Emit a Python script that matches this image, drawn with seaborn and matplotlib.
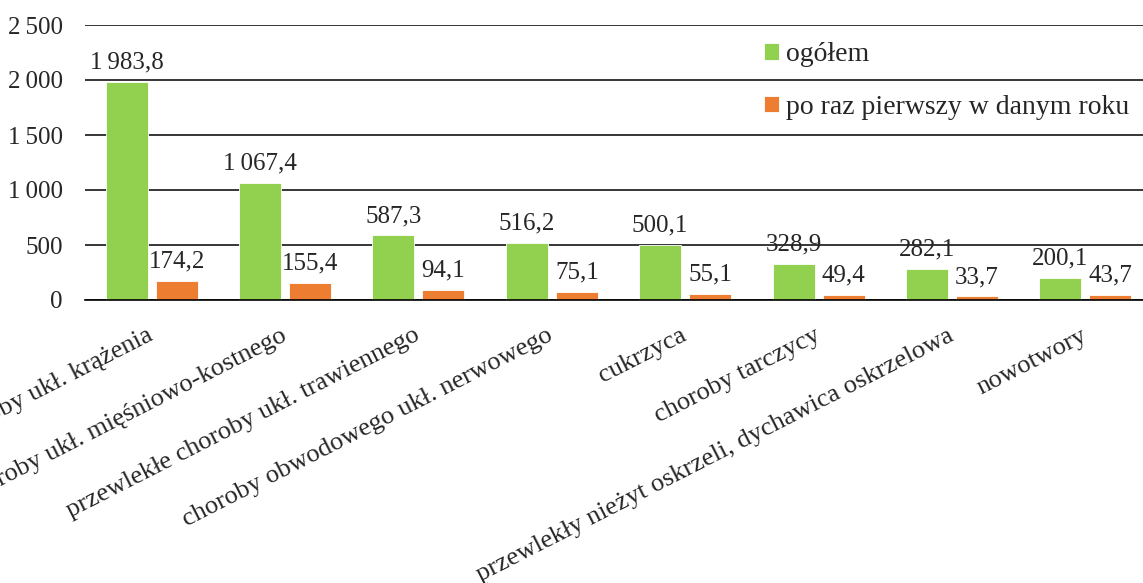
import matplotlib
matplotlib.use("Agg")
import matplotlib.pyplot as plt
import matplotlib.transforms as mtransforms
import seaborn as sns
import pandas as pd
from matplotlib.ticker import FixedLocator

categories = [
    "choroby ukł. krążenia",
    "choroby ukł. mięśniowo-kostnego",
    "przewlekłe choroby ukł. trawiennego",
    "choroby obwodowego ukł. nerwowego",
    "cukrzyca",
    "choroby tarczycy",
    "przewlekły nieżyt oskrzeli, dychawica oskrzelowa",
    "nowotwory",
]
ogolem = [1983.8, 1067.4, 587.3, 516.2, 500.1, 328.9, 282.1, 200.1]
pierwszy = [174.2, 155.4, 94.1, 75.1, 55.1, 49.4, 33.7, 43.7]
series_names = ["ogółem", "po raz pierwszy w danym roku"]
yticks = [0, 500, 1000, 1500, 2000, 2500]

colors = ["#92D050", "#ED7D31"]
SP = "\u2009"

def fmt(v, dec=1):
    s = f"{v:,.{dec}f}" if dec else f"{v:,.0f}"
    return s.replace(",", SP).replace(".", ",")

df = pd.DataFrame({
    "kat": categories * 2,
    "seria": [series_names[0]] * len(categories) + [series_names[1]] * len(categories),
    "val": ogolem + pierwszy,
})

sns.set_style("white")
plt.rcParams["font.family"] = ["Liberation Serif", "DejaVu Serif"]

W, H = 1143, 583
fig = plt.figure(figsize=(W / 100, H / 100), dpi=100)
ax = fig.add_axes([85 / W, (H - 300) / H, (1152 - 85) / W, 275 / H])

sns.barplot(data=df, x="kat", y="val", hue="seria", palette=colors,
            width=0.75, gap=0.16, ax=ax, edgecolor="white", linewidth=0.6,
            saturation=1, legend=True)

ax.set_ylim(0, 2500)
ax.set_xlim(-0.5, len(categories) - 0.5)
ax.set_yticks(yticks)
ax.set_yticklabels([fmt(t, 0) for t in yticks], fontsize=18)
ax.tick_params(axis="y", length=0, pad=16)
ax.yaxis.grid(True, color="black", linewidth=1.1)
ax.set_axisbelow(True)

ax.set_xticks(range(len(categories)))
ax.set_xticklabels(categories, fontsize=19, rotation=27, ha="right",
                   va="top", rotation_mode="anchor")
ax.tick_params(axis="x", which="major", length=0, pad=17.5)
offset = mtransforms.ScaledTranslation(-5 / 100, 0, fig.dpi_scale_trans)
for lab in ax.get_xticklabels():
    lab.set_transform(lab.get_transform() + offset)
ax.xaxis.set_minor_locator(FixedLocator([i - 0.5 for i in range(len(categories) + 1)]))
ax.tick_params(axis="x", which="minor", length=6, width=1, color="#555555", direction="out")

for s in ["top", "right", "left"]:
    ax.spines[s].set_visible(False)
ax.spines["bottom"].set_color("black")
ax.spines["bottom"].set_linewidth(1.2)
ax.set_xlabel("")
ax.set_ylabel("")

for cont in ax.containers:
    vals = [b.get_height() for b in cont]
    ax.bar_label(cont, labels=[fmt(v) for v in vals], padding=6, fontsize=18)

handles, labels = ax.get_legend_handles_labels()
ax.legend(handles, labels, loc="upper left",
          bbox_to_anchor=(764 / W, 1 - 42 / H), bbox_transform=fig.transFigure,
          frameon=False, fontsize=20, handlelength=0.55, handleheight=0.55,
          handletextpad=0.25, labelspacing=1.0, borderpad=0, borderaxespad=0)

fig.savefig("out.png", dpi=100)
